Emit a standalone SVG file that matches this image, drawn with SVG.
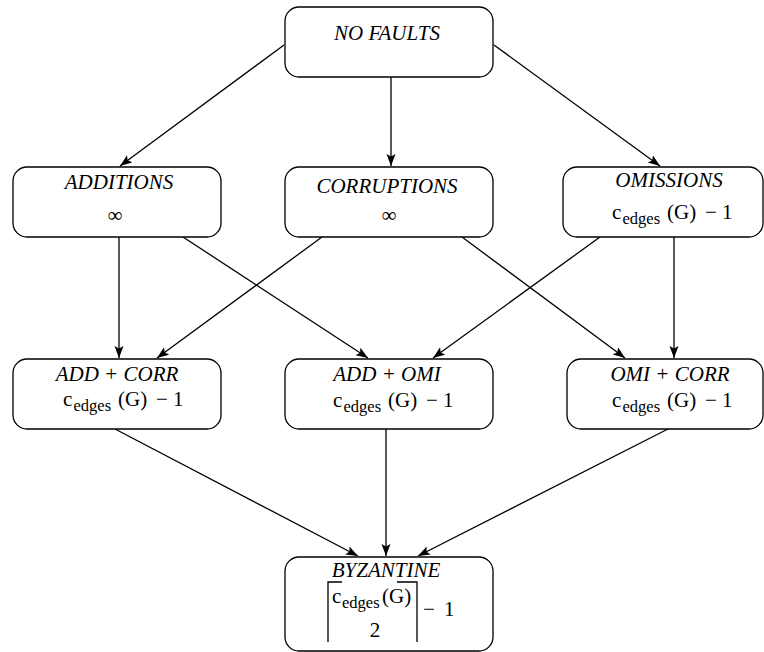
<svg xmlns="http://www.w3.org/2000/svg" width="764" height="652" viewBox="0 0 764 652">
<defs>
<marker id="ah" markerUnits="userSpaceOnUse" markerWidth="14" markerHeight="10" refX="12" refY="4.5" orient="auto">
<path d="M0,0 L12,4.5 L0,9 L2.5,4.5 z" fill="#000"/>
</marker>
<style>
.box{fill:#fff;stroke:#000;stroke-width:1.3}
text{font-family:'Liberation Serif','Times New Roman',serif;font-size:21px;fill:#000}
.t{font-style:italic;text-anchor:middle}
.s{font-size:16.5px}
.e{fill:none;stroke:#000;stroke-width:1.3;marker-end:url(#ah)}
.br{fill:none;stroke:#000;stroke-width:1.3}
</style>
</defs>
<rect width="764" height="652" fill="#fff"/>
<g id="connectors">
<path class="e" d="M284,45 L120,166"/>
<path class="e" d="M391,77 L391,166"/>
<path class="e" d="M494,45 L660,166"/>
<path class="e" d="M119,237 L119,358"/>
<path class="e" d="M183,237 L368,358"/>
<path class="e" d="M322,237 L157,358"/>
<path class="e" d="M462,237 L625,358"/>
<path class="e" d="M600,237 L433,358"/>
<path class="e" d="M674,237 L674,358"/>
<path class="e" d="M115,429 L358,556"/>
<path class="e" d="M386,429 L386,556"/>
<path class="e" d="M668,429 L418,556"/>
</g>
<g id="nofaults">
<rect class="box" x="285" y="7" width="208" height="70" rx="14"/>
<text class="t" x="387" y="40">NO FAULTS</text>
</g>
<g id="additions">
<rect class="box" x="13" y="167" width="208" height="70" rx="14"/>
<text class="t" x="119" y="189">ADDITIONS</text>
<text x="115" y="222" text-anchor="middle">∞</text>
</g>
<g id="corruptions">
<rect class="box" x="285" y="167" width="208" height="70" rx="14"/>
<text class="t" x="387" y="193">CORRUPTIONS</text>
<text x="389" y="222" text-anchor="middle">∞</text>
</g>
<g id="omissions">
<rect class="box" x="563" y="167" width="200" height="70" rx="14"/>
<text class="t" x="669" y="187">OMISSIONS</text>
<text y="219"><tspan x="612">c</tspan><tspan class="s" x="622.5" dy="5">edges</tspan><tspan x="667" dy="-5">(G)</tspan><tspan x="705">−</tspan><tspan x="722">1</tspan></text>
</g>
<g id="addcorr">
<rect class="box" x="13" y="359" width="208" height="70" rx="14"/>
<text class="t" x="117" y="381">ADD + CORR</text>
<text y="406"><tspan x="63">c</tspan><tspan class="s" x="73.5" dy="5">edges</tspan><tspan x="118" dy="-5">(G)</tspan><tspan x="156">−</tspan><tspan x="173">1</tspan></text>
</g>
<g id="addomi">
<rect class="box" x="285" y="359" width="208" height="70" rx="14"/>
<text class="t" x="387" y="381">ADD + OMI</text>
<text y="407"><tspan x="333">c</tspan><tspan class="s" x="343.5" dy="5">edges</tspan><tspan x="388" dy="-5">(G)</tspan><tspan x="426">−</tspan><tspan x="443">1</tspan></text>
</g>
<g id="omicorr">
<rect class="box" x="567" y="359" width="196" height="70" rx="14"/>
<text class="t" x="670" y="381">OMI + CORR</text>
<text y="407"><tspan x="612">c</tspan><tspan class="s" x="622.5" dy="5">edges</tspan><tspan x="667" dy="-5">(G)</tspan><tspan x="705">−</tspan><tspan x="722">1</tspan></text>
</g>
<g id="byzantine">
<rect class="box" x="285" y="557" width="208" height="94" rx="14"/>
<text class="t" x="386" y="577">BYZANTINE</text>
<path class="br" d="M342,582 H328 V642"/>
<path class="br" d="M397,582 H417 V642"/>
<text y="603"><tspan x="332">c</tspan><tspan class="s" x="342" dy="5">edges</tspan><tspan x="382" dy="-5">(G)</tspan></text>
<text x="375" y="637" text-anchor="middle">2</text>
<text y="616"><tspan x="423">−</tspan><tspan x="444">1</tspan></text>
</g>
</svg>
